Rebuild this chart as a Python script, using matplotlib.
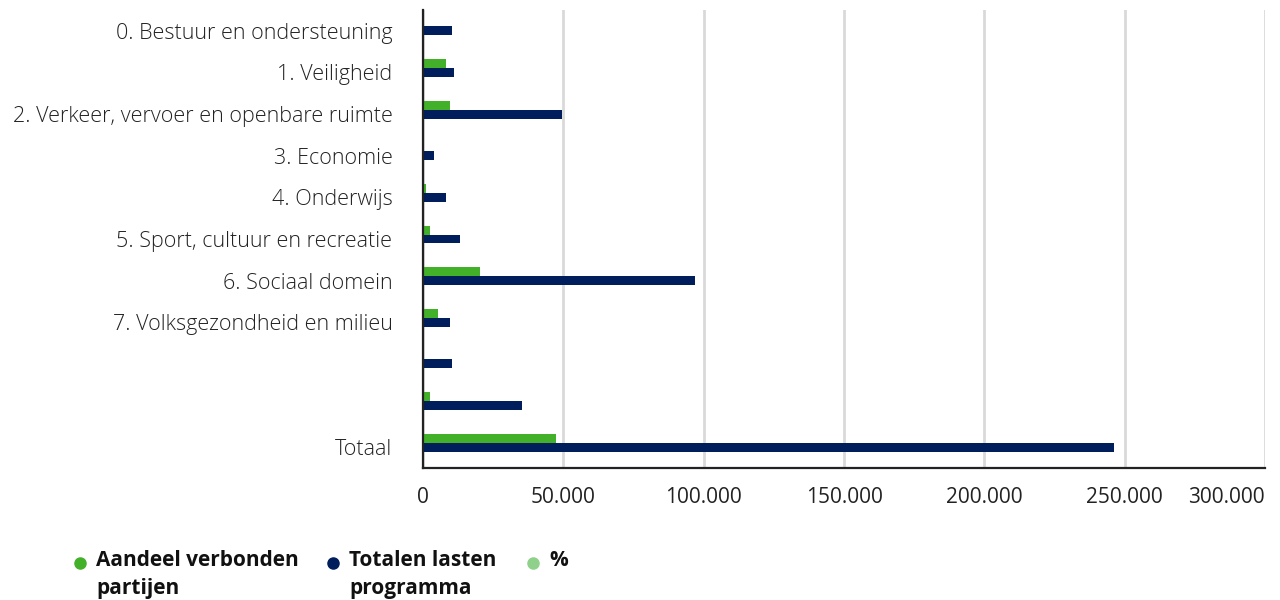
import matplotlib
matplotlib.use("Agg")
import matplotlib.pyplot as plt
from matplotlib.lines import Line2D

categories = [
    "0. Bestuur en ondersteuning",
    "1. Veiligheid",
    "2. Verkeer, vervoer en openbare ruimte",
    "3. Economie",
    "4. Onderwijs",
    "5. Sport, cultuur en recreatie",
    "6. Sociaal domein",
    "7. Volksgezondheid en milieu",
    "",
    "",
    "Totaal",
]
aandeel_verbonden = [0, 8200, 9600, 0, 950, 2500, 20400, 5400, 0, 2500, 47500]
totalen_lasten = [10400, 11100, 49600, 3900, 8200, 13200, 96800, 9600, 10400, 35400, 246200]
x_ticks = [0, 50000, 100000, 150000, 200000, 250000, 300000]
x_tick_labels = ["0", "50.000", "100.000", "150.000", "200.000", "250.000", "300.000"]
series_names = ["Aandeel verbonden\npartijen", "Totalen lasten\nprogramma", "%"]

GREEN = "#43b02a"
NAVY = "#001e5c"
LIGHT_GREEN = "#8fd18a"
GRID = "#d9d9d9"
TEXT = "#222222"
FONT = "Open Sans"

fig = plt.figure(figsize=(12.8, 6), dpi=100)
ax = fig.add_axes([423 / 1280, 1 - 468 / 600, (1265 - 423) / 1280, (468 - 10) / 600])

pos = list(range(len(categories)))
h = 0.215
ax.barh([p - h for p in pos], aandeel_verbonden, height=h, color=GREEN, zorder=3)
ax.barh(pos, totalen_lasten, height=h, color=NAVY, zorder=3)

ax.set_ylim(len(categories) - 0.5, -0.5)
ax.set_xlim(x_ticks[0], x_ticks[-1])
ax.set_xticks(x_ticks, x_tick_labels, family=FONT, fontsize=15, color=TEXT)
ax.set_yticks(pos, categories, family=FONT, fontsize=15.5, color=TEXT, fontweight="light")
ax.tick_params(axis="y", length=0, pad=22)
ax.tick_params(axis="x", length=0, pad=14)

# keep the last tick label inside the figure
last = ax.xaxis.get_major_ticks()[-1].label1
last.set_horizontalalignment("right")

ax.grid(axis="x", color=GRID, linewidth=2, zorder=0)
ax.set_axisbelow(True)
for side in ("top", "right"):
    ax.spines[side].set_visible(False)
for side in ("left", "bottom"):
    ax.spines[side].set_color(TEXT)
    ax.spines[side].set_linewidth(1.6)
    ax.spines[side].set_zorder(4)

# legend drawn in figure coordinates
legend_items = [(80, GREEN), (333, NAVY), (533, LIGHT_GREEN)]
for (x, col), name in zip(legend_items, series_names):
    fig.add_artist(Line2D([x / 1280], [1 - 563 / 600], marker="o", markersize=8,
                          color=col, linestyle="none", transform=fig.transFigure))
    fig.text((x + 16) / 1280, 1 - 550 / 600, name, family=FONT, fontweight="bold",
             fontsize=15, color="#111111", va="top", ha="left", linespacing=1.42)

fig.savefig("out.png", dpi=100)
